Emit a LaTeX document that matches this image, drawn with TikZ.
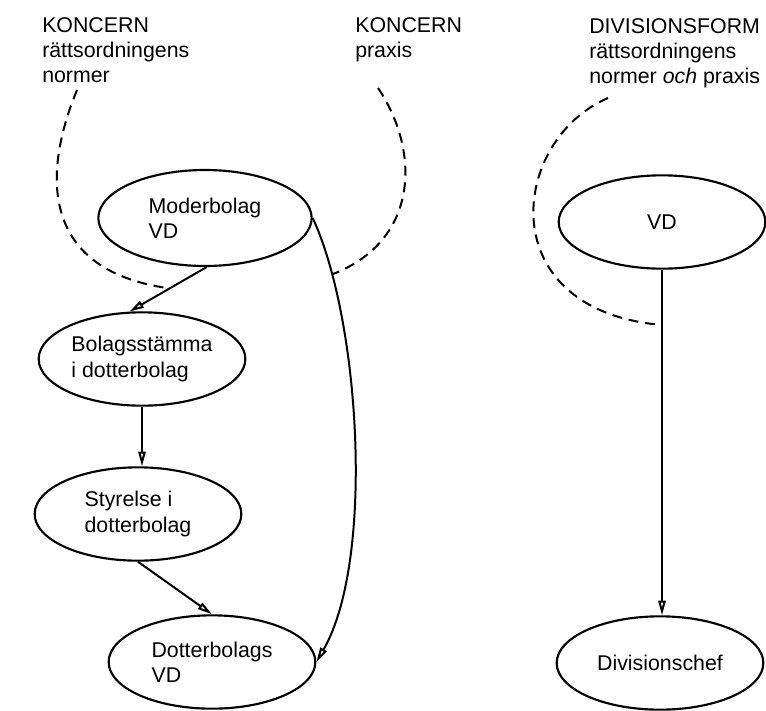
\documentclass[tikz,border=0pt]{standalone}
\usepackage{fontspec}
\setmainfont{Liberation Sans}
\usetikzlibrary{shapes.geometric,arrows.meta}
\begin{document}
\begin{tikzpicture}[x=0.75pt,y=-0.75pt,
  font=\fontsize{16}{19}\selectfont,
  box/.style={ellipse,draw,line width=1.6pt,inner sep=0pt,align=left,minimum width=155pt,minimum height=70pt},
  lbl/.style={anchor=north west,inner sep=0pt,align=left},
  conn/.style={line width=1.5pt,-{Triangle[open,length=11pt,width=5.5pt]}},
  bound/.style={line width=1.5pt,dash pattern=on 7.5pt off 5pt}]
\useasboundingbox (0,0) rectangle (766,710);
% texts
\node[lbl] (t1) at (42,17) {KONCERN\\rättsordningens\\normer};
\node[lbl] (t2) at (355,17) {KONCERN\\praxis};
\node[lbl] (t3) at (589,18) {DIVISIONSFORM\\rättsordningens\\normer \textit{och} praxis};
% ellipses
\node[box,minimum width=160pt,minimum height=72pt] (mod) at (205,218) {Moderbolag\\VD};
\node[box] (bol) at (142,359) {Bolagsstämma\\i dotterbolag};
\node[box] (sty) at (138,514) {Styrelse i\\dotterbolag};
\node[box] (dot) at (212,662) {Dotterbolags\\VD};
\node[box] (vd) at (662,222) {VD};
\node[box] (div) at (660,663) {Divisionschef};
% connectors
\draw[conn] (mod.272) -- (bol.105);
\draw[conn] (bol.south) -- (bol.south |- sty.north);
\draw[conn] (sty.south) -- (dot.north);
\draw[conn] (mod.east) .. controls (360,320) and (375,560) .. (dot.east);
\draw[conn] (vd.south) -- (vd.south |- div.north);
% boundaries
\coordinate (l0) at (77,90);
\coordinate (l1) at (167,288);
\coordinate (m0) at (378,88);
\coordinate (m1) at (333,274);
\coordinate (r0) at (608,98);
\coordinate (r1) at (662,325);
\draw[bound] (l0) .. controls (40,180) and (45,270) .. (l1);
\draw[bound] (m0) .. controls (420,150) and (420,240) .. (m1);
\draw[bound] (r0) .. controls (510,140) and (490,310) .. (r1);
\end{tikzpicture}
\end{document}
